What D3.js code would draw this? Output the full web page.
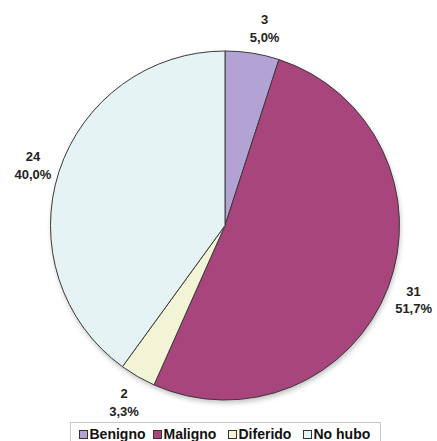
<!DOCTYPE html>
<html><head><meta charset="utf-8">
<script src="https://cdn.jsdelivr.net/npm/d3@7"></script>
<style>body{margin:0;background:#fff}svg{display:block}</style>
</head><body>
<script>
const categories = ["Benigno", "Maligno", "Diferido", "No hubo"];
const counts = [3, 31, 2, 24];
const percentLabels = ["5,0%", "51,7%", "3,3%", "40,0%"];
const colors = ["#b3a3d5", "#a8457d", "#f3f3d5", "#e6f3f4"];

const W = 437, H = 441, cx = 225, cy = 225.5, R = 174.5;
const svg = d3.select("body").append("svg").attr("width", W).attr("height", H);
const defs = svg.append("defs");
const f = defs.append("filter").attr("id","sh").attr("x","-20%").attr("y","-20%").attr("width","140%").attr("height","140%");
f.append("feGaussianBlur").attr("stdDeviation", 2.5);

const data = categories.map((c,i)=>({cat:c, v:counts[i], p:percentLabels[i], col:colors[i]}));
const pie = d3.pie().value(d=>d.v).sort(null);
const arcs = pie(data);
const arc = d3.arc().innerRadius(0).outerRadius(R);
const labelArc = d3.arc().innerRadius(202).outerRadius(202);

const g = svg.append("g").attr("transform", `translate(${cx},${cy})`);
g.append("circle").attr("cx",1).attr("cy",3).attr("r",R).attr("fill","#999").attr("opacity",0.6).attr("filter","url(#sh)");
g.selectAll("path.s").data(arcs).join("path").attr("class","s")
  .attr("d", arc).attr("fill", d=>d.data.col)
  .attr("stroke", "#3a3a3a").attr("stroke-width", 1).attr("stroke-linejoin","round");

const lab = g.selectAll("text.l").data(arcs).join("text").attr("class","l")
  .attr("transform", (d,i)=>{const [x,y]=labelArc.centroid(d); const dx = i===0?8:0; return `translate(${x+dx},${y})`;})
  .attr("text-anchor","middle")
  .style("font-family","'Liberation Sans', Arial, sans-serif")
  .style("font-weight","bold").style("font-size","13px").attr("fill","#222");
lab.append("tspan").attr("x",0).attr("dy","-0.15em").text(d=>d.data.v);
lab.append("tspan").attr("x",0).attr("dy","1.35em").text(d=>d.data.p);

// legend
const lg = svg.append("g");
lg.append("rect").attr("x",70.5).attr("y",422.5).attr("width",310).attr("height",30)
  .attr("fill","#fff").attr("stroke","#c8c8c8");
const xs = [79.5, 153.5, 228.5, 303.5];
const items = lg.selectAll("g.it").data(data).join("g").attr("class","it")
  .attr("transform",(d,i)=>`translate(${xs[i]},0)`);
items.append("rect").attr("x",0).attr("y",430.5).attr("width",8).attr("height",8)
  .attr("fill",d=>d.col).attr("stroke","#333");
items.append("text").attr("x",10).attr("y",439)
  .style("font-family","'Liberation Sans', Arial, sans-serif")
  .style("font-weight","bold").style("font-size","14px").attr("fill","#111")
  .text(d=>d.cat);
</script>
</body></html>
